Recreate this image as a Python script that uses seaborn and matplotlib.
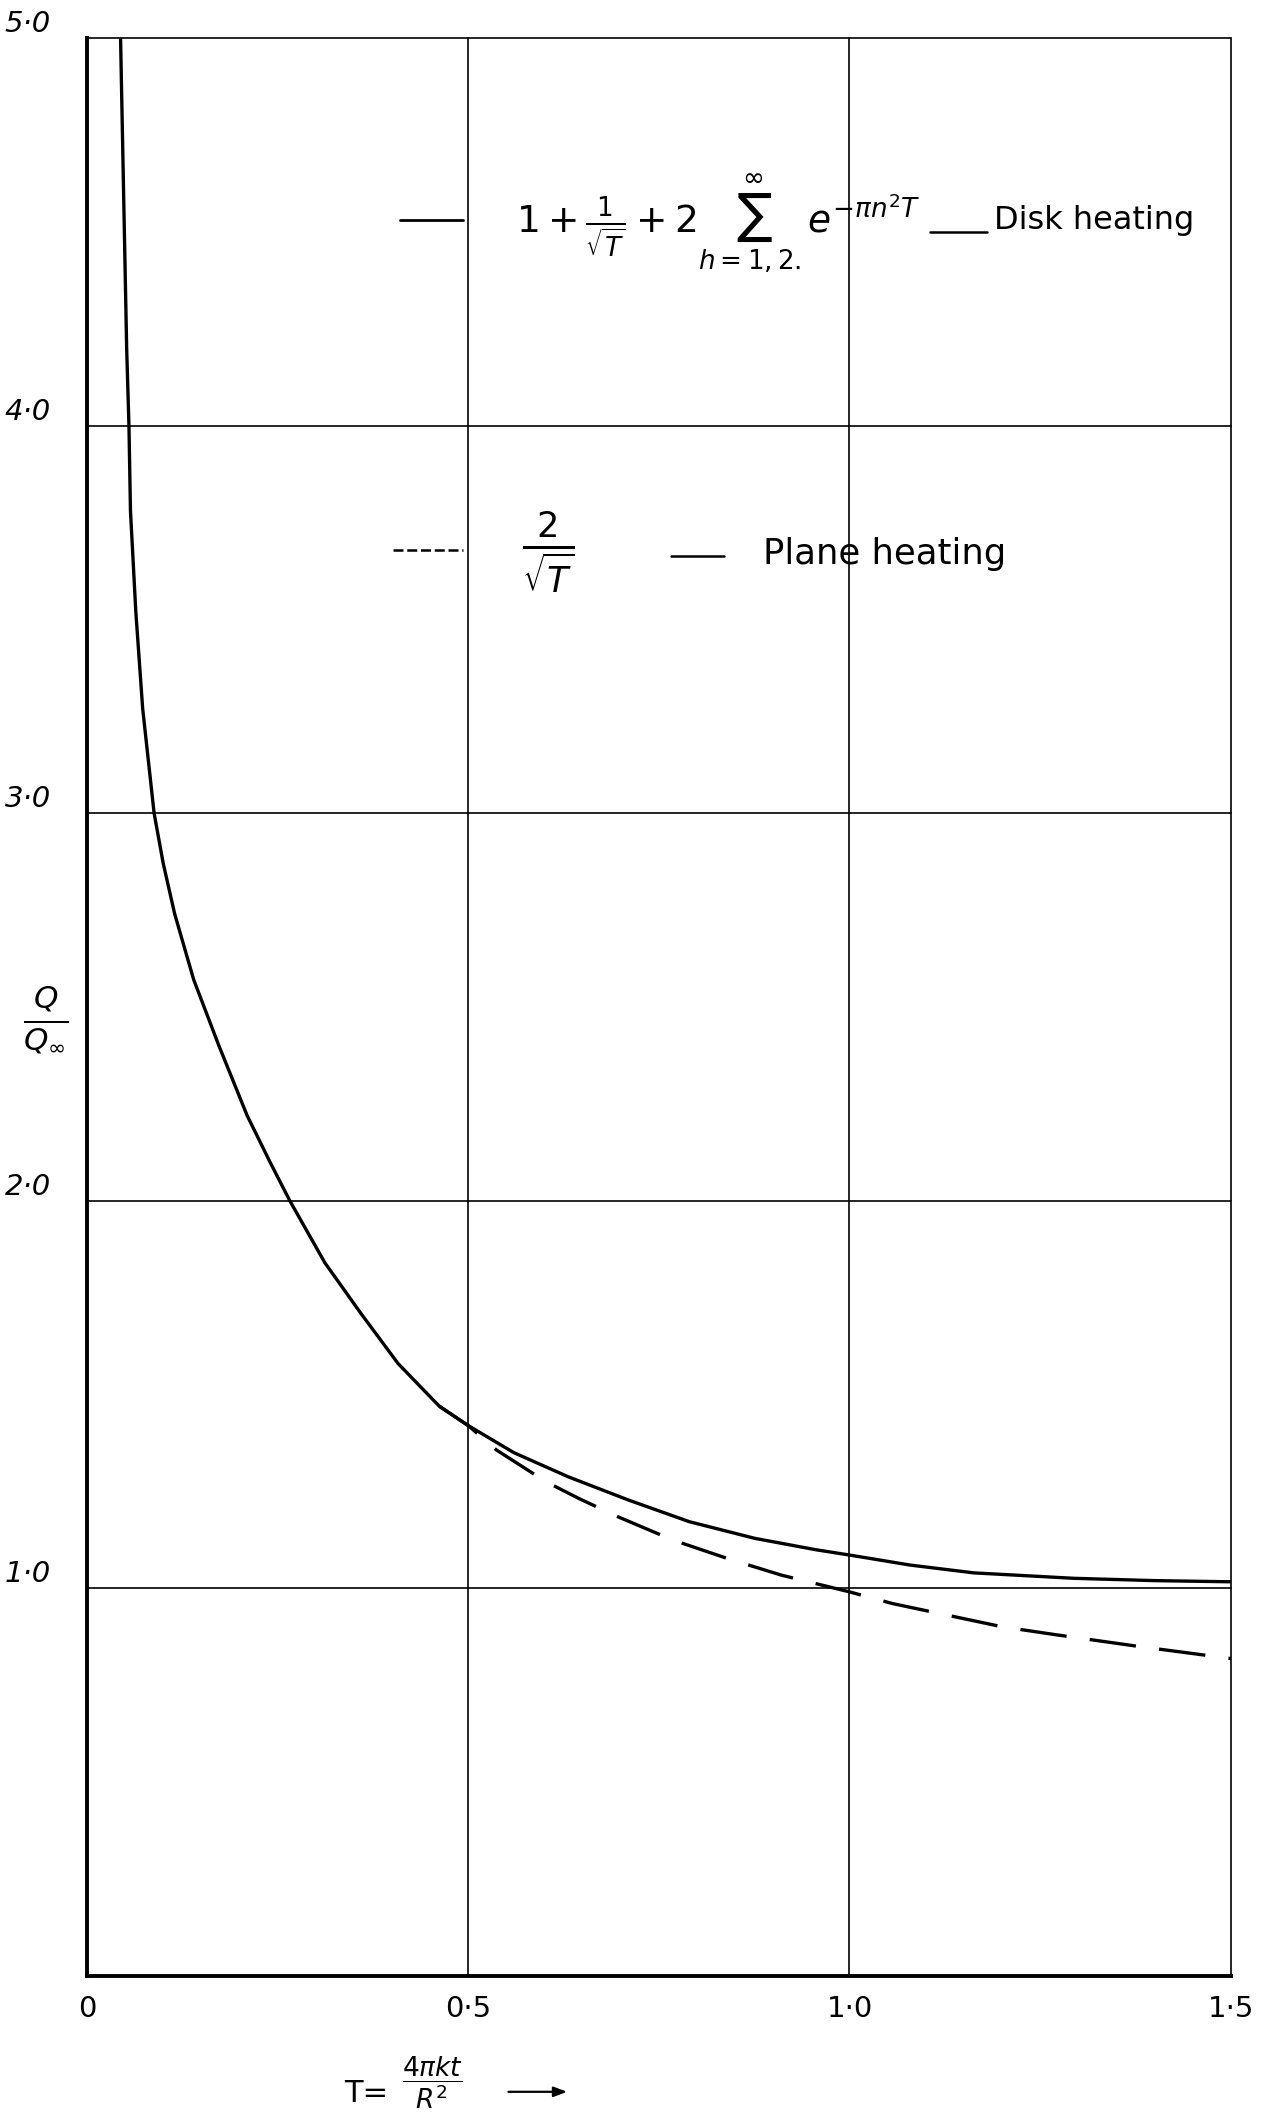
import numpy as np
import pandas as pd
import matplotlib
matplotlib.use("Agg")
import matplotlib.pyplot as plt
import seaborn as sns

# ---- data ----
disk_T = [0.044, 0.049, 0.052, 0.055, 0.057, 0.064, 0.073, 0.088, 0.100, 0.115,
          0.140, 0.173, 0.210, 0.240, 0.266, 0.312, 0.359, 0.408, 0.462, 0.500,
          0.560, 0.631, 0.710, 0.790, 0.876, 0.955, 1.000, 1.080, 1.163, 1.294,
          1.400, 1.500]
disk_Q = [5.00, 4.50, 4.20, 4.00, 3.78, 3.52, 3.27, 3.00, 2.87, 2.74,
          2.57, 2.40, 2.22, 2.10, 2.00, 1.84, 1.71, 1.58, 1.47, 1.42,
          1.35, 1.288, 1.228, 1.172, 1.129, 1.100, 1.086, 1.060, 1.040, 1.026,
          1.020, 1.017]
plane_T = [0.462, 0.500, 0.537, 0.602, 0.645, 0.696, 0.768, 0.840, 0.911, 1.000,
           1.056, 1.128, 1.200, 1.272, 1.380, 1.500]
plane_Q = [1.47, 1.42, 1.357, 1.275, 1.232, 1.185, 1.125, 1.077, 1.034, 0.991,
           0.961, 0.931, 0.901, 0.880, 0.850, 0.819]

x_ticks = [0, 0.5, 1.0, 1.5]
x_tick_labels = ["0", "0·5", "1·0", "1·5"]
y_ticks = [1, 2, 3, 4, 5]
y_tick_labels = ["1·0", "2·0", "3·0", "4·0", "5·0"]

disk_label = r"$1+\frac{1}{\sqrt{T}}+2\sum_{h=1,2.}^{\infty}e^{-\pi n^2T}$"
plane_label = r"$\frac{2}{\sqrt{T}}$"

# ---- figure ----
sns.set_theme(style="white")
plt.rcParams["font.family"] = ["DejaVu Sans"]
plt.rcParams["mathtext.fontset"] = "dejavusans"

fig = plt.figure(figsize=(12.61, 21.14), dpi=100)
ax = fig.add_axes([0.069, 0.0653, 0.907, 0.9167])

ink = "black"
sns.lineplot(x=disk_T, y=disk_Q, ax=ax, color=ink, lw=2.4, sort=False,
             estimator=None)
sns.lineplot(x=plane_T, y=plane_Q, ax=ax, color=ink, lw=2.4, sort=False,
             estimator=None)
ax.lines[-1].set_dashes((14, 7))

ax.set_xlim(0, 1.5)
ax.set_ylim(0, 5.0)

# grid
for yv in y_ticks:
    ax.axhline(yv, color=ink, lw=1.2, zorder=0, clip_on=False)
for xv in x_ticks[1:]:
    ax.axvline(xv, color=ink, lw=1.2, zorder=0, clip_on=False)

for side in ["top", "right"]:
    ax.spines[side].set_visible(False)
for side in ["left", "bottom"]:
    ax.spines[side].set_visible(True)
    ax.spines[side].set_color(ink)
    ax.spines[side].set_linewidth(2.8)

ax.set_xticks(x_ticks)
ax.set_xticklabels(x_tick_labels, fontsize=21)
ax.set_yticks(y_ticks)
ax.set_yticklabels(y_tick_labels, fontsize=21, style="italic")
ax.tick_params(axis="x", length=0, pad=14, colors=ink)
ax.tick_params(axis="y", length=0, pad=26, colors=ink)
for lab in ax.get_yticklabels():
    lab.set_va("bottom")
ax.grid(False)

# legend drawn by hand (as in the reference)
ax.plot([0.41, 0.493], [4.53, 4.53], color=ink, lw=2.0)
ax.text(0.563, 4.52, disk_label, fontsize=27, ha="left", va="center", color=ink)
ax.plot([1.106, 1.18], [4.50, 4.50], color=ink, lw=1.8)
ax.text(1.19, 4.53, "Disk heating", fontsize=23, ha="left", va="center", color=ink)

ax.plot([0.401, 0.493], [3.68, 3.68], color=ink, lw=1.8, dashes=(4, 1.5))
ax.text(0.605, 3.674, plane_label, fontsize=36, ha="center", va="center", color=ink)
ax.plot([0.766, 0.836], [3.664, 3.664], color=ink, lw=1.8)
ax.text(0.886, 3.67, "Plane heating", fontsize=25.5, ha="left", va="center", color=ink)

# axis labels
fig.text(0.036, 0.518, r"$\frac{Q}{Q_{\infty}}$", fontsize=32, ha="center",
         va="center", color=ink)
fig.text(0.273, 0.0099, "T=", fontsize=22, ha="left", va="center", color=ink)
fig.text(0.319, 0.0015, r"$\dfrac{4\pi kt}{R^2}$", fontsize=19, ha="left",
         va="bottom", color=ink)
fig.add_artist(matplotlib.patches.FancyArrowPatch(
    (0.401, 0.0105), (0.452, 0.0105), transform=fig.transFigure,
    arrowstyle="-|>,head_length=8,head_width=3", color=ink, lw=1.6))

fig.savefig("out.png", dpi=100, facecolor="white")
